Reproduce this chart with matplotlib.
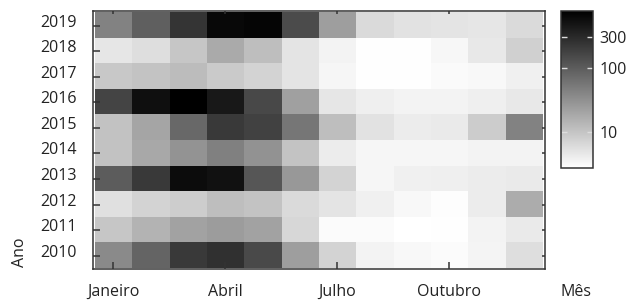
import numpy as np
import matplotlib
matplotlib.use('Agg')
import matplotlib.pyplot as plt
import matplotlib.transforms as mtransforms
from matplotlib.colors import LogNorm

plt.rcParams['font.family'] = ['Open Sans', 'DejaVu Sans']

# meses e anos
meses = ['Jan', 'Fev', 'Mar', 'Abr', 'Mai', 'Jun', 'Jul', 'Ago', 'Set', 'Out', 'Nov', 'Dez']
anos = [2010, 2011, 2012, 2013, 2014, 2015, 2016, 2017, 2018, 2019]
rotulos_x = ['Janeiro', 'Abril', 'Julho', 'Outubro']
posicoes_x = [1, 4, 7, 10]

# valores mensais por ano
v2010 = [36, 84, 212, 265, 149, 23, 7.0, 3.57, 3.13, 2.93, 3.42, 5.57]
v2011 = [9.5, 14.2, 21.1, 24.1, 21.1, 6.5, 2.93, 2.93, 2.68, 2.8, 3.57, 4.27]
v2012 = [5.33, 7.0, 8.1, 11.3, 10.1, 6.1, 4.9, 3.74, 3.13, 2.86, 4.1, 16.9]
v2013 = [100, 212, 589, 515, 114, 26.4, 7.0, 3.27, 3.74, 3.9, 4.1, 4.27]
v2014 = [10.4, 18.5, 28.8, 44.9, 30.1, 10.1, 4.1, 3.27, 3.27, 3.27, 3.5, 3.5]
v2015 = [10.4, 19.8, 76, 212, 178, 56, 11.3, 5.2, 4.1, 4.27, 8.3, 43]
v2016 = [170, 540, 736, 452, 156, 22, 4.67, 3.9, 3.57, 3.57, 3.9, 4.47]
v2017 = [9.1, 9.9, 11.9, 8.7, 7.0, 4.9, 3.27, 2.74, 2.74, 3.0, 3.13, 3.74]
v2018 = [4.67, 5.57, 9.5, 17.7, 11.3, 4.9, 3.57, 2.8, 2.8, 3.2, 4.47, 7.6]
v2019 = [43, 93, 243, 644, 688, 146, 23, 6.1, 5.2, 4.9, 4.7, 6.1]

cb_ticks = [10, 100, 300]
cb_min, cb_max = 2.68, 769

dados = np.array([v2010, v2011, v2012, v2013, v2014, v2015,
                  v2016, v2017, v2018, v2019])

fs = 11.5

fig = plt.figure(figsize=(6.38, 3.0), dpi=100)
ax = fig.add_axes([0.145, 0.1033, 0.710, 0.8607])

im = ax.imshow(dados, cmap='gray_r', norm=LogNorm(vmin=cb_min, vmax=cb_max),
               origin='lower', aspect='auto', interpolation='nearest',
               extent=(0.5, len(meses) + 0.5, anos[0] - 0.5, anos[-1] + 0.5))
ax.set_xlim(0.44, 12.575)
ax.set_ylim(2009.48, 2019.575)

for s in ax.spines.values():
    s.set_linewidth(1.1)
    s.set_color('#333333')

ax.set_xticks(posicoes_x)
ax.set_xticklabels(rotulos_x)
ax.set_yticks(anos)
ax.set_yticklabels([str(a) for a in anos])
ax.tick_params(axis='both', direction='in', length=5, width=1.1,
               color='#333333', labelcolor='#222222', labelsize=fs,
               top=True, right=True)
ax.tick_params(axis='x', pad=10.5)
ax.tick_params(axis='y', pad=11)

# ticks espelhados claros
for t in ax.xaxis.get_major_ticks() + ax.yaxis.get_major_ticks():
    t.tick2line.set_color('#cccccc')
    t.tick2line.set_markersize(2.5)

# rótulos do eixo y levemente acima das marcas
desloc = mtransforms.ScaledTranslation(0, 5 / 100, fig.dpi_scale_trans)
for lab in ax.get_yticklabels():
    lab.set_transform(lab.get_transform() + desloc)

fig.text(576 / 638, 1 - 296 / 300, 'Mês', ha='center', va='baseline',
         fontsize=fs, color='#222222')
fig.text(20 / 638, 1 - 252 / 300, 'Ano', ha='center', va='center',
         rotation=90, fontsize=fs, color='#222222')

# barra de cores
cax = fig.add_axes([0.8793, 0.439, 0.0497, 0.5243])
cb = fig.colorbar(im, cax=cax)
cb.outline.set_linewidth(1.1)
cb.outline.set_edgecolor('#333333')
cax.minorticks_off()
cb.set_ticks(cb_ticks)
cb.set_ticklabels([str(t) for t in cb_ticks])
cax.tick_params(direction='in', left=True, right=True, length=4.5, width=1,
                color='#dddddd', labelcolor='#222222', labelsize=fs, pad=5)

fig.savefig('out.png', dpi=100)
